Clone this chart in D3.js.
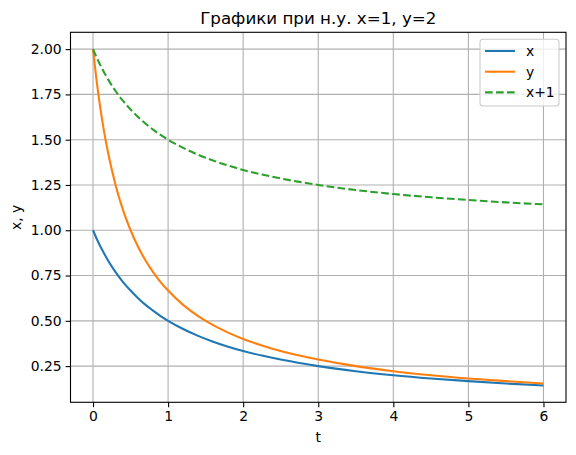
<!DOCTYPE html>
<html><head><meta charset="utf-8">
<script src="https://cdn.jsdelivr.net/npm/d3@7"></script>
<style>body{margin:0;background:#fff}svg{display:block}text{font-family:"DejaVu Sans",sans-serif;fill:#000}</style>
</head><body>
<script>
const tVals = [0,0.05,0.1,0.15,0.2,0.3,0.4,0.5,0.6,0.7,0.8,0.9,1.0,1.2,1.4,1.6,1.8,2.0,2.25,2.5,2.75,3,3.5,4,4.5,5,5.5,6];
const xVals = [1.000,0.952,0.909,0.870,0.833,0.769,0.714,0.667,0.625,0.588,0.556,0.526,0.500,0.455,0.417,0.385,0.357,0.333,0.308,0.286,0.267,0.250,0.222,0.200,0.182,0.167,0.154,0.143];
const yVals = [2.000,1.818,1.667,1.538,1.429,1.250,1.111,1.000,0.909,0.833,0.769,0.714,0.667,0.588,0.526,0.476,0.435,0.400,0.364,0.333,0.308,0.286,0.250,0.222,0.200,0.182,0.167,0.154];
const x1Vals = [2.000,1.952,1.909,1.870,1.833,1.769,1.714,1.667,1.625,1.588,1.556,1.526,1.500,1.455,1.417,1.385,1.357,1.333,1.308,1.286,1.267,1.250,1.222,1.200,1.182,1.167,1.154,1.143];
const xTicks = [0,1,2,3,4,5,6];
const yTicks = [0.25,0.50,0.75,1.00,1.25,1.50,1.75,2.00];
const seriesNames = ["x","y","x+1"];
const seriesColors = ["#1f77b4","#ff7f0e","#2ca02c"];
const titleText = "Графики при н.у. x=1, y=2";

const W=576,H=455, L=70.5, R=566, T=32.3, B=402.3;
const svg = d3.select("body").append("svg").attr("width",W).attr("height",H);
const xs = d3.scaleLinear().domain([-0.3,6.3]).range([L,R]);
const ys = d3.scaleLinear().domain([0.0502,2.0929]).range([B,T]);

// grid
const g = svg.append("g");
g.selectAll(".gx").data(xTicks).enter().append("line")
 .attr("x1",d=>xs(d)).attr("x2",d=>xs(d)).attr("y1",T).attr("y2",B)
 .attr("stroke","#b0b0b0").attr("stroke-width",1.1);
g.selectAll(".gy").data(yTicks).enter().append("line")
 .attr("y1",d=>ys(d)).attr("y2",d=>ys(d)).attr("x1",L).attr("x2",R)
 .attr("stroke","#b0b0b0").attr("stroke-width",1.1);

// lines
const series = [xVals,yVals,x1Vals];
const line = d3.line().x((d,i)=>xs(tVals[i])).y(d=>ys(d)).curve(d3.curveMonotoneX);
series.forEach((s,k)=>{
  svg.append("path").attr("d",line(s)).attr("fill","none")
   .attr("stroke",seriesColors[k]).attr("stroke-width",2.08)
   .attr("stroke-dasharray",k===2?"7.7,3.3":null);
});

// axes
const xa = d3.axisBottom(xs).tickValues(xTicks).tickFormat(d3.format("d")).tickSize(4.86).tickPadding(4.0);
const ya = d3.axisLeft(ys).tickValues(yTicks).tickFormat(d3.format(".2f")).tickSize(4.86).tickPadding(4.0);
const gx = svg.append("g").attr("transform",`translate(0,${B})`).call(xa);
const gy = svg.append("g").attr("transform",`translate(${L},0)`).call(ya);
[gx,gy].forEach(a=>{
  a.select(".domain").remove();
  a.selectAll("line").attr("stroke","#000").attr("stroke-width",1.1);
  a.selectAll("text").attr("font-size","13.9px").attr("font-family","DejaVu Sans").attr("fill","#000");
});
svg.append("rect").attr("x",L).attr("y",T).attr("width",R-L).attr("height",B-T)
 .attr("fill","none").attr("stroke","#000").attr("stroke-width",1.1);

// labels
svg.append("text").attr("x",(L+R)/2).attr("y",24).attr("text-anchor","middle").attr("font-size","16.7px").text(titleText);
svg.append("text").attr("x",(L+R)/2).attr("y",442).attr("text-anchor","middle").attr("font-size","13.9px").text("t");
svg.append("text").attr("transform",`translate(21,${(T+B)/2}) rotate(-90)`).attr("text-anchor","middle").attr("font-size","13.9px").text("x, y");

// legend
const lg = svg.append("g");
lg.append("rect").attr("x",480).attr("y",39.3).attr("width",79).attr("height",66.7).attr("rx",3)
 .attr("fill","#fff").attr("fill-opacity",0.8).attr("stroke","#cccccc").attr("stroke-width",1.1);
seriesNames.forEach((n,k)=>{
  const yy = 51 + k*20.7;
  lg.append("line").attr("x1",485).attr("x2",515).attr("y1",yy).attr("y2",yy)
   .attr("stroke",seriesColors[k]).attr("stroke-width",2.08).attr("stroke-dasharray",k===2?"7.7,3.3":null);
  lg.append("text").attr("x",526).attr("y",yy+4.9).attr("font-size","13.9px").text(n);
});
</script>
</body></html>
